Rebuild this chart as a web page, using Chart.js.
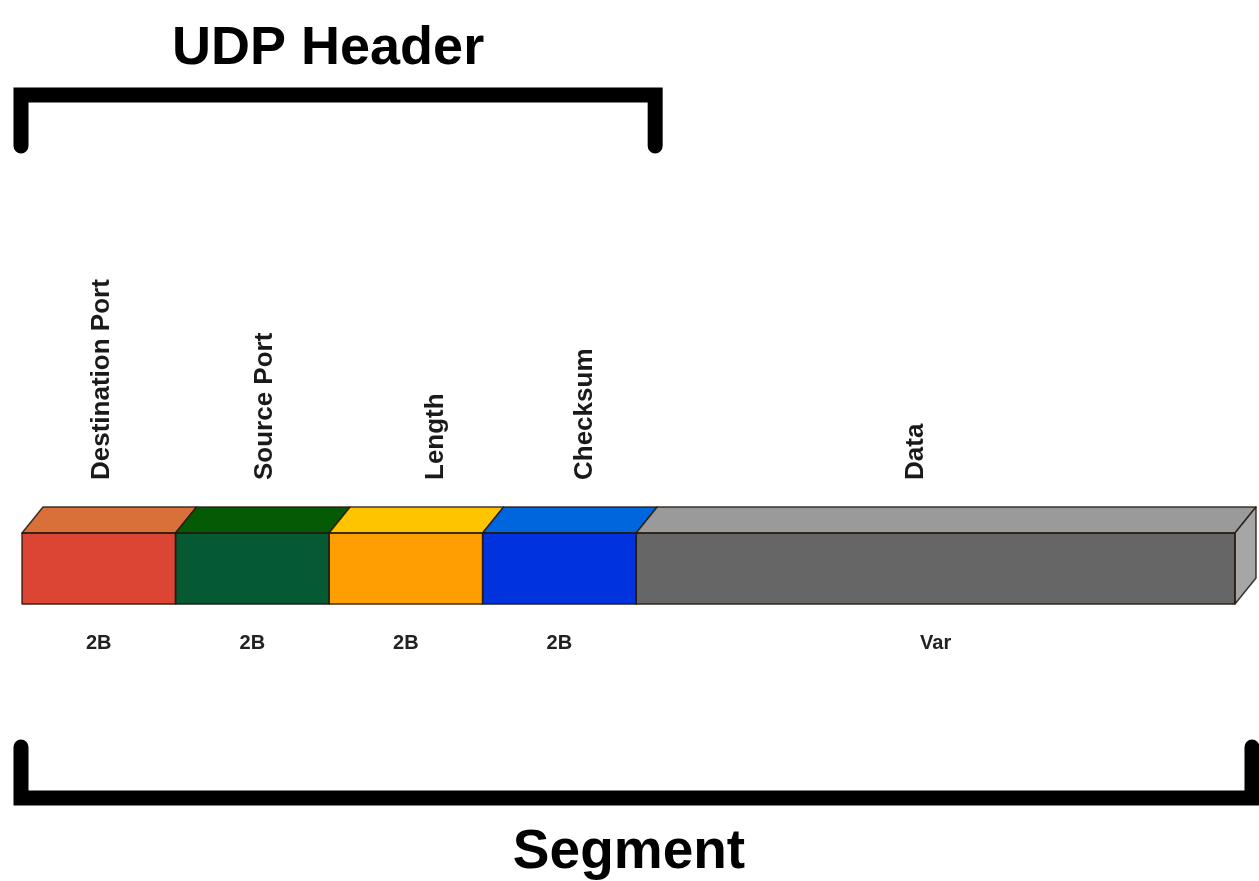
<!DOCTYPE html>
<html>
<head>
<meta charset="utf-8">
<title>UDP Header</title>
<script src="https://cdn.jsdelivr.net/npm/chart.js@4/dist/chart.umd.min.js"></script>
<style>
  html, body { margin: 0; padding: 0; background: #fff; }
  canvas { display: block; }
</style>
</head>
<body>
<canvas id="udpChart" width="1259" height="881"></canvas>
<script>
// --- data
const fieldNames  = ["Destination Port", "Source Port", "Length", "Checksum", "Data"];
const fieldSizes  = [2, 2, 2, 2, 7.8];          // bytes; Data is variable, width estimated
const sizeLabels  = ["2B", "2B", "2B", "2B", "Var"];
const headerCount = 4;                           // first four fields form the UDP header

const frontColors = ["#dc4433", "#065a33", "#ff9e00", "#0033dd", "#666666"];
const topColors   = ["#d9703a", "#055a06", "#ffc400", "#0066dd", "#9a9a9a"];
const sideColor   = "#a6a6a6";

const total = fieldSizes.reduce((a, b) => a + b, 0);
const FONT = "'Liberation Sans', Arial, Helvetica, sans-serif";

const depthX = 21, depthY = 26;
const edge = "rgba(35,25,15,0.85)";

// nudges for the rotated labels, as in the drawing
const labelNudge = [3, 13, 30, 25, -20];

const udpPlugin = {
    id: "udpPlugin",
    beforeDraw(chart) {
        const ctx = chart.ctx;
        ctx.save();
        ctx.fillStyle = "#fff";
        ctx.fillRect(0, 0, chart.width, chart.height);
        ctx.restore();
    },
    afterDatasetsDraw(chart) {
        const ctx = chart.ctx;
        const metas = chart.getSortedVisibleDatasetMetas();
        ctx.save();
        ctx.lineWidth = 1.5;
        ctx.strokeStyle = edge;
        ctx.lineJoin = "round";

        metas.forEach((meta, i) => {
            const bar = meta.data[0];
            const p = bar.getProps(["x", "base", "y", "height"], true);
            const x0 = Math.min(p.base, p.x), x1 = Math.max(p.base, p.x);
            const top = p.y - p.height / 2, bottom = p.y + p.height / 2;

            // top face
            ctx.beginPath();
            ctx.moveTo(x0, top);
            ctx.lineTo(x1, top);
            ctx.lineTo(x1 + depthX, top - depthY);
            ctx.lineTo(x0 + depthX, top - depthY);
            ctx.closePath();
            ctx.fillStyle = topColors[i];
            ctx.fill();
            ctx.stroke();

            // right side face on the last block
            if (i === metas.length - 1) {
                ctx.beginPath();
                ctx.moveTo(x1, top);
                ctx.lineTo(x1 + depthX, top - depthY);
                ctx.lineTo(x1 + depthX, bottom - depthY);
                ctx.lineTo(x1, bottom);
                ctx.closePath();
                ctx.fillStyle = sideColor;
                ctx.fill();
                ctx.stroke();
            }

            // front outline
            ctx.strokeRect(x0, top, x1 - x0, bottom - top);

            const cx = (x0 + x1) / 2;

            // field name, rotated
            ctx.save();
            ctx.translate(cx + labelNudge[i], top - depthY - 27);
            ctx.rotate(-Math.PI / 2);
            ctx.fillStyle = "#1a1a1a";
            ctx.font = "bold 26px " + FONT;
            ctx.textAlign = "left";
            ctx.textBaseline = "middle";
            ctx.fillText(fieldNames[i], 0, 0);
            ctx.restore();

            // size under the block
            ctx.fillStyle = "#222";
            ctx.font = "bold 20px " + FONT;
            ctx.textAlign = "center";
            ctx.textBaseline = "middle";
            ctx.fillText(sizeLabels[i], cx, bottom + 39);
        });
        ctx.restore();
    },
    afterDraw(chart) {
        const ctx = chart.ctx;
        const xs = chart.scales.x;
        const headerEnd = fieldSizes.slice(0, headerCount).reduce((a, b) => a + b, 0);

        const left = xs.getPixelForValue(0) - 1;
        const headRight = xs.getPixelForValue(headerEnd) + depthX - 2;
        const segRight = xs.getPixelForValue(total) + depthX - 4;

        ctx.save();
        ctx.strokeStyle = "#000";
        ctx.lineWidth = 15;
        ctx.lineCap = "round";
        ctx.lineJoin = "miter";

        // UDP header bracket
        ctx.beginPath();
        ctx.moveTo(left, 146);
        ctx.lineTo(left, 95);
        ctx.lineTo(headRight, 95);
        ctx.lineTo(headRight, 146);
        ctx.stroke();

        // segment bracket
        ctx.beginPath();
        ctx.moveTo(left, 747);
        ctx.lineTo(left, 798);
        ctx.lineTo(segRight, 798);
        ctx.lineTo(segRight, 747);
        ctx.stroke();

        ctx.fillStyle = "#000";
        ctx.textAlign = "center";
        ctx.textBaseline = "alphabetic";
        ctx.font = "bold 54px " + FONT;
        ctx.fillText("UDP Header", (left + headRight) / 2 - 10, 64);
        ctx.font = "bold 55px " + FONT;
        ctx.fillText("Segment", 629, 868);
        ctx.restore();
    }
};

new Chart(document.getElementById("udpChart"), {
    type: "bar",
    data: {
        labels: ["UDP"],
        datasets: fieldNames.map((name, i) => ({
            label: name,
            data: [fieldSizes[i]],
            backgroundColor: frontColors[i],
            borderWidth: 0,
            barThickness: 71,
            stack: "udp"
        }))
    },
    options: {
        indexAxis: "y",
        responsive: false,
        animation: false,
        layout: { padding: { left: 22, right: 24, top: 500, bottom: 244 } },
        plugins: {
            legend: { display: false },
            tooltip: { enabled: false },
            title: { display: false }
        },
        scales: {
            x: { stacked: true, min: 0, max: total, display: false },
            y: { stacked: true, display: false }
        }
    },
    plugins: [udpPlugin]
});
</script>
</body>
</html>
